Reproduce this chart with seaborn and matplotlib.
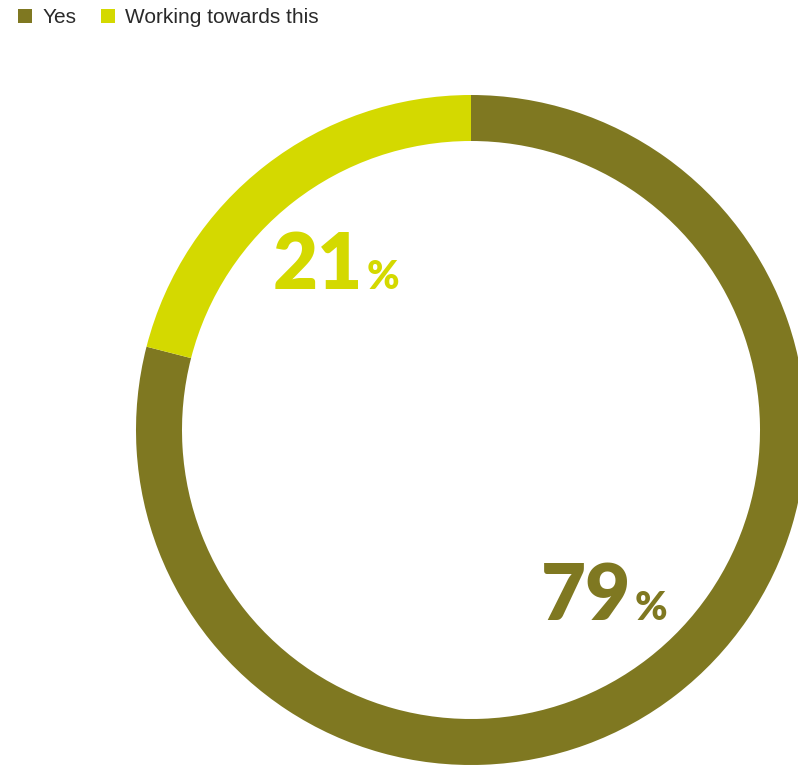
import matplotlib
matplotlib.use("Agg")
import matplotlib.pyplot as plt
import seaborn as sns

categories = ["Yes", "Working towards this"]
values = [79, 21]
colors = ["#7f7821", "#d4d900"]

sns.set_theme(style="white")
plt.rcParams["font.family"] = ["Liberation Sans", "DejaVu Sans"]

W, H = 798, 766
fig = plt.figure(figsize=(W / 100, H / 100), dpi=100)
ax = fig.add_axes([0, 0, 1, 1])

cx, cy = 471, H - 430
R = 335
ring = 46

wedges, _ = ax.pie(
    values, colors=colors, startangle=90, counterclock=False,
    center=(cx, cy), radius=R, frame=True,
    wedgeprops=dict(width=ring, linewidth=0, antialiased=True),
)
ax.set_xlim(0, W)
ax.set_ylim(0, H)
ax.set_aspect("equal")
ax.axis("off")

# value labels: big number plus smaller percent sign
label_pos = {"Yes": (631, H - 620), "Working towards this": (363, H - 289)}
for cat, val, col in zip(categories, values, colors):
    x, y = label_pos[cat]
    ax.text(x, y, f"{val}", color=col, fontsize=56, fontweight="heavy",
            family=["Lato", "DejaVu Sans"], ha="right", va="baseline")
    ax.text(x + 4, y, "%", color=col, fontsize=28, fontweight="heavy",
            family=["Lato", "DejaVu Sans"], ha="left", va="baseline")

leg = fig.legend(
    wedges, categories, loc="upper left", bbox_to_anchor=(0.0125, 1.0),
    ncol=2, frameon=False, fontsize=15, handlelength=0.68, handleheight=0.68,
    handletextpad=0.5, columnspacing=1.15, borderaxespad=0,
)
for t in leg.get_texts():
    t.set_color("#2a2a2a")

fig.savefig("out.png", dpi=100)
